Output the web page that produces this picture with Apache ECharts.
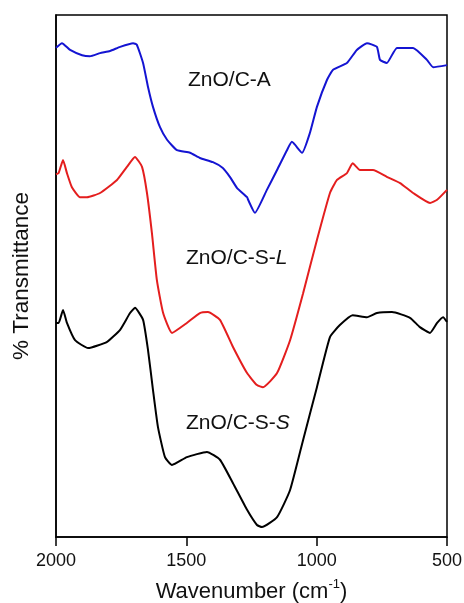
<!DOCTYPE html>
<html><head><meta charset="utf-8">
<script src="https://cdn.jsdelivr.net/npm/echarts@6/dist/echarts.min.js"></script>
<style>html,body{margin:0;padding:0;background:#fff}#c{width:464px;height:603px}</style>
</head><body><div id="c"></div>
<script>
// Wavenumber (cm^-1) for each sample, and transmittance in arbitrary offset units
const blueWn = [2000,1977,1946,1900,1870,1831,1793,1754,1704,1690,1666,1647,1628,1601,1574,1536,1486,1448,1398,1360,1333,1306,1267,1263,1237,1191,1152,1114,1095,1056,1026,999,961,937,884,846,807,769,757,731,692,630,577,553,500];
const blueT  = [93.7,94.6,93.3,92.3,92.1,92.7,93.1,93.9,94.6,94.3,90.8,86.2,82.4,78.5,76.1,74.1,73.6,72.6,71.8,70.7,69.0,66.9,65.1,64.6,62.1,66.5,70.3,74.1,75.7,73.6,77.4,82.4,87.5,89.5,90.8,93.3,94.6,93.9,91.4,90.8,93.7,93.7,91.4,90.0,90.4];

const redWn = [2000,1990,1973,1958,1939,1908,1881,1831,1766,1728,1697,1670,1651,1632,1613,1589,1555,1498,1448,1417,1371,1321,1267,1229,1206,1152,1102,1052,999,949,922,884,862,834,784,731,680,630,565,538,500];
const redT  = [69.5,69.7,72.2,69.7,67.0,65.1,65.1,65.9,68.4,70.9,72.8,70.9,65.9,58.2,49.2,42.9,39.1,41.0,42.9,43.1,41.6,36.4,31.4,29.1,28.7,31.4,37.7,46.7,56.9,65.9,68.4,69.7,71.6,70.3,70.3,69.0,67.8,65.9,64.0,64.6,66.5];

const blackWn = [2000,1990,1973,1958,1927,1877,1804,1754,1716,1697,1666,1647,1628,1609,1582,1555,1498,1421,1371,1321,1267,1229,1210,1152,1102,1052,999,949,911,862,807,769,711,642,604,565,538,515,500];
const blackT  = [41.0,41.0,43.5,41.0,37.7,36.2,37.4,39.7,42.9,43.9,41.6,35.8,28.2,21.1,15.3,13.8,15.3,16.3,14.8,10.3,5.2,2.3,1.9,3.8,9.0,18.6,28.7,38.3,40.6,42.5,42.1,42.9,43.1,42.0,40.2,39.1,41.0,42.1,41.2];

const xTicks = [2000,1500,1000,500];
const seriesNames = ['ZnO/C-A','ZnO/C-S-L','ZnO/C-S-S'];

const zip = (a,b) => a.map((v,i)=>[v,b[i]]);
const FONT = '"Liberation Sans", Arial, sans-serif';

const chart = echarts.init(document.getElementById('c'), null, {renderer:'canvas'});
const mk = (name, wn, t, color) => ({
  name, type:'line', data: zip(wn,t), showSymbol:false, smooth:0.15,
  lineStyle:{color, width:2}, itemStyle:{color}, animation:false
});
chart.setOption({
  animation:false,
  backgroundColor:'#fff',
  grid:{left:56, right:17, top:15, bottom:66, outerBoundsMode:'none', containLabel:false, show:true, borderColor:'#000', borderWidth:1.5, backgroundColor:'transparent'},
  xAxis:{
    type:'value', inverse:true, min:500, max:2000, interval:500,
    name:'Wavenumber (cm{sup|-1})', nameLocation:'middle', nameGap:41,
    nameTextStyle:{fontFamily:FONT, fontSize:22, color:'#111', rich:{sup:{fontSize:13, fontFamily:FONT, color:'#111', padding:[0,0,14,0]}}},
    axisLine:{show:true, lineStyle:{color:'#000', width:1.5}},
    axisTick:{show:true, inside:false, length:9, lineStyle:{color:'#000', width:1.5}},
    axisLabel:{fontFamily:FONT, fontSize:18, color:'#111', margin:15, formatter:v=>xTicks.includes(v)?String(v):''},
    splitLine:{show:false}
  },
  yAxis:{
    type:'value', min:0, max:100,
    name:'% Transmittance', nameLocation:'middle', nameGap:23,
    nameTextStyle:{fontFamily:FONT, fontSize:22.5, color:'#111'},
    axisLine:{show:true, lineStyle:{color:'#000', width:1.5}},
    axisTick:{show:false}, axisLabel:{show:false}, splitLine:{show:false}
  },
  graphic:[
    {type:'text', x:188, y:80, style:{text:'ZnO/C-A', font:'21px '+FONT, fill:'#111', verticalAlign:'middle', textVerticalAlign:'middle'}},
    {type:'text', x:186, y:258, style:{text:'ZnO/C-S-{it|L}', font:'21px '+FONT, fill:'#111', verticalAlign:'middle', textVerticalAlign:'middle',
      rich:{it:{fontStyle:'italic', fontSize:21, fontFamily:FONT, fill:'#111'}}}},
    {type:'text', x:186, y:423, style:{text:'ZnO/C-S-{it|S}', font:'21px '+FONT, fill:'#111', verticalAlign:'middle', textVerticalAlign:'middle',
      rich:{it:{fontStyle:'italic', fontSize:21, fontFamily:FONT, fill:'#111'}}}}
  ],
  series:[
    mk(seriesNames[0], blueWn, blueT, '#1414d2'),
    mk(seriesNames[1], redWn, redT, '#e41e1e'),
    mk(seriesNames[2], blackWn, blackT, '#000000')
  ]
});
</script></body></html>
